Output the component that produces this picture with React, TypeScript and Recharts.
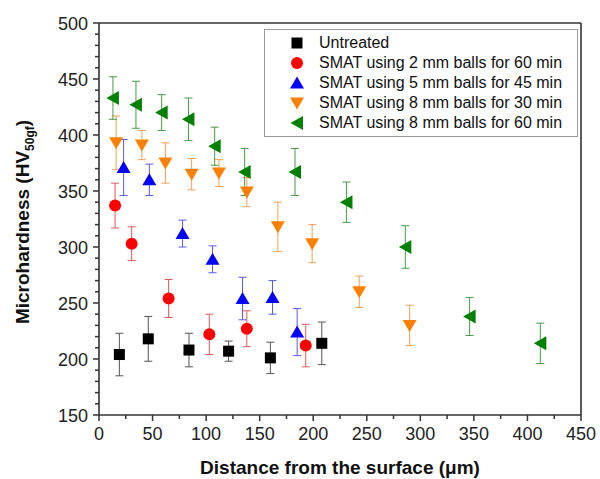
import { ErrorBar, Legend, ReferenceLine, Scatter, ScatterChart, XAxis, YAxis } from "recharts";

const FONT = '"Liberation Sans", Arial, sans-serif';

const xTicks = [0, 25, 50, 75, 100, 125, 150, 175, 200, 225, 250, 275, 300, 325, 350, 375, 400, 425, 450];
const yTicks = [
  150, 160, 170, 180, 190, 200, 210, 220, 230, 240, 250, 260, 270, 280, 290, 300, 310, 320,
  330, 340, 350, 360, 370, 380, 390, 400, 410, 420, 430, 440, 450, 460, 470, 480, 490, 500,
];

// Untreated
const untreatedX = [19, 46, 84, 121, 160, 208];
const untreatedY = [204, 218, 208, 207, 201, 214];
const untreatedErr = [19, 20, 15, 9, 14, 19];

// SMAT 2 mm / 60 min
const smat2mm60X = [15, 30.5, 65, 103, 138, 193];
const smat2mm60Y = [337, 303, 254, 222, 227, 212];
const smat2mm60Err = [20, 15, 17, 18, 16, 19];

// SMAT 5 mm / 45 min
const smat5mm45X = [23, 47, 78, 106, 134, 162, 185];
const smat5mm45Y = [371, 360, 312, 289, 254, 255, 224];
const smat5mm45Err = [25, 14, 12, 12, 19, 15, 21];

// SMAT 8 mm / 30 min
const smat8mm30X = [16, 40, 62, 86.5, 112, 138, 167, 199, 243, 290];
const smat8mm30Y = [393, 391, 375, 365, 366, 349, 318, 303, 260, 230];
const smat8mm30Err = [24, 13, 18, 14, 12, 13, 22, 17, 14, 18];

// SMAT 8 mm / 60 min
const smat8mm60X = [13, 34.5, 58.5, 83.5, 108, 136, 183, 231, 286, 346, 412];
const smat8mm60Y = [433, 427, 420, 414, 390, 367, 367, 340, 300, 238, 214];
const smat8mm60Err = [19, 21, 16, 19, 17, 21, 21, 18, 19, 17, 18];

const toPoints = (xs: number[], ys: number[], errs: number[]) =>
  xs.map((x, i) => ({ x, y: ys[i], err: errs[i] }));

type MarkerKind = "square" | "circle" | "up" | "down" | "left";

function Marker({ kind, cx, cy, fill }: { kind: MarkerKind; cx: number; cy: number; fill: string }) {
  switch (kind) {
    case "square":
      return <rect x={cx - 5.5} y={cy - 5.5} width={11} height={11} fill={fill} />;
    case "circle":
      return <circle cx={cx} cy={cy} r={6} fill={fill} />;
    case "up":
      return <path d={`M${cx},${cy - 6.5}L${cx + 7},${cy + 5.5}L${cx - 7},${cy + 5.5}Z`} fill={fill} />;
    case "down":
      return <path d={`M${cx},${cy + 6.5}L${cx + 7},${cy - 5.5}L${cx - 7},${cy - 5.5}Z`} fill={fill} />;
    default:
      return <path d={`M${cx - 6.5},${cy}L${cx + 6},${cy - 7}L${cx + 6},${cy + 7}Z`} fill={fill} />;
  }
}

const series = [
  { name: "Untreated", data: toPoints(untreatedX, untreatedY, untreatedErr), kind: "square", color: "#000000", errColor: "#555555" },
  { name: "SMAT using 2 mm balls for 60 min", data: toPoints(smat2mm60X, smat2mm60Y, smat2mm60Err), kind: "circle", color: "#ff0000", errColor: "#e0595c" },
  { name: "SMAT using 5 mm balls for 45 min", data: toPoints(smat5mm45X, smat5mm45Y, smat5mm45Err), kind: "up", color: "#0000ff", errColor: "#5a5ae8" },
  { name: "SMAT using 8 mm balls for 30 min", data: toPoints(smat8mm30X, smat8mm30Y, smat8mm30Err), kind: "down", color: "#ff8000", errColor: "#f2a255" },
  { name: "SMAT using 8 mm balls for 60 min", data: toPoints(smat8mm60X, smat8mm60Y, smat8mm60Err), kind: "left", color: "#008000", errColor: "#4a9a4a" },
] as const;

function XTick({ x, y, payload }: any) {
  const major = payload.value % 50 === 0;
  return (
    <g>
      <line x1={x} x2={x} y1={y} y2={y + (major ? 6 : 4)} stroke="#333" strokeWidth={1.5} />
      {major && (
        <text x={x} y={y + 25} textAnchor="middle" fontSize={18} fontFamily={FONT} fill="#222">
          {payload.value}
        </text>
      )}
    </g>
  );
}

function YTick({ x, y, payload }: any) {
  const major = payload.value % 50 === 0;
  return (
    <g>
      <line x1={x} x2={x - (major ? 6 : 4)} y1={y} y2={y} stroke="#333" strokeWidth={1.5} />
      {major && (
        <text x={x - 11} y={y + 6.5} textAnchor="end" fontSize={18} fontFamily={FONT} fill="#222">
          {payload.value}
        </text>
      )}
    </g>
  );
}

function YTitle({ viewBox }: any) {
  const cy = (viewBox?.y ?? 23) + (viewBox?.height ?? 392) / 2 + 3;
  return (
    <text
      transform={`translate(29, ${cy}) rotate(-90)`}
      textAnchor="middle"
      fontSize={19}
      fontWeight="bold"
      fontFamily={FONT}
      fill="#111"
    >
      Microhardness (HV
      <tspan fontSize={12} dy={5}>
        50gf
      </tspan>
      <tspan dy={-5}>)</tspan>
    </text>
  );
}

function LegendBox() {
  return (
    <div
      style={{
        boxSizing: "border-box",
        width: 314,
        height: 108,
        border: "1px solid #9a9a9a",
        background: "#fff",
        paddingTop: 3,
        fontFamily: FONT,
        fontSize: 16,
        color: "#111",
      }}
    >
      {series.map((s) => (
        <div key={s.name} style={{ display: "flex", alignItems: "center", height: 20, lineHeight: "20px" }}>
          <svg width={16} height={16} style={{ marginLeft: 24, marginRight: 14 }}>
            <Marker kind={s.kind} cx={8} cy={8} fill={s.color} />
          </svg>
          <span>{s.name}</span>
        </div>
      ))}
    </div>
  );
}

export default function App() {
  return (
    <div style={{ position: "absolute", left: 0, top: 0, background: "#fff" }}>
      <ScatterChart width={600} height={479} margin={{ top: 23, right: 19, bottom: 0, left: 0 }}>
        <XAxis
          type="number"
          dataKey="x"
          domain={[0, 450]}
          ticks={xTicks}
          interval={0}
          height={64}
          tickSize={0}
          tickMargin={0}
          tickLine={false}
          tick={<XTick />}
          axisLine={{ stroke: "#333", strokeWidth: 1.6 }}
          label={{
            value: "Distance from the surface (\u03bcm)",
            position: "insideBottom",
            offset: 5,
            style: { fontSize: 19, fontWeight: "bold", fontFamily: FONT, fill: "#111" },
          }}
        />
        <YAxis
          type="number"
          dataKey="y"
          domain={[150, 500]}
          ticks={yTicks}
          interval={0}
          width={99}
          tickSize={0}
          tickMargin={0}
          tickLine={false}
          tick={<YTick />}
          axisLine={{ stroke: "#333", strokeWidth: 1.6 }}
          label={<YTitle />}
        />
        <ReferenceLine y={500} stroke="#333" strokeWidth={1.6} />
        <ReferenceLine x={450} stroke="#333" strokeWidth={1.6} />
        <Legend
          layout="vertical"
          align="center"
          verticalAlign="middle"
          wrapperStyle={{ left: 264, top: 29, width: 314, height: 108 }}
          content={() => <LegendBox />}
        />
        {series.map((s) => (
          <Scatter
            key={s.name}
            name={s.name}
            data={s.data as any}
            fill={s.color}
            isAnimationActive={false}
            shape={(p: any) => <Marker kind={s.kind} cx={p.cx} cy={p.cy} fill={s.color} />}
          >
            <ErrorBar dataKey="err" direction="y" width={4} stroke={s.errColor} strokeWidth={1} />
          </Scatter>
        ))}
      </ScatterChart>
    </div>
  );
}
